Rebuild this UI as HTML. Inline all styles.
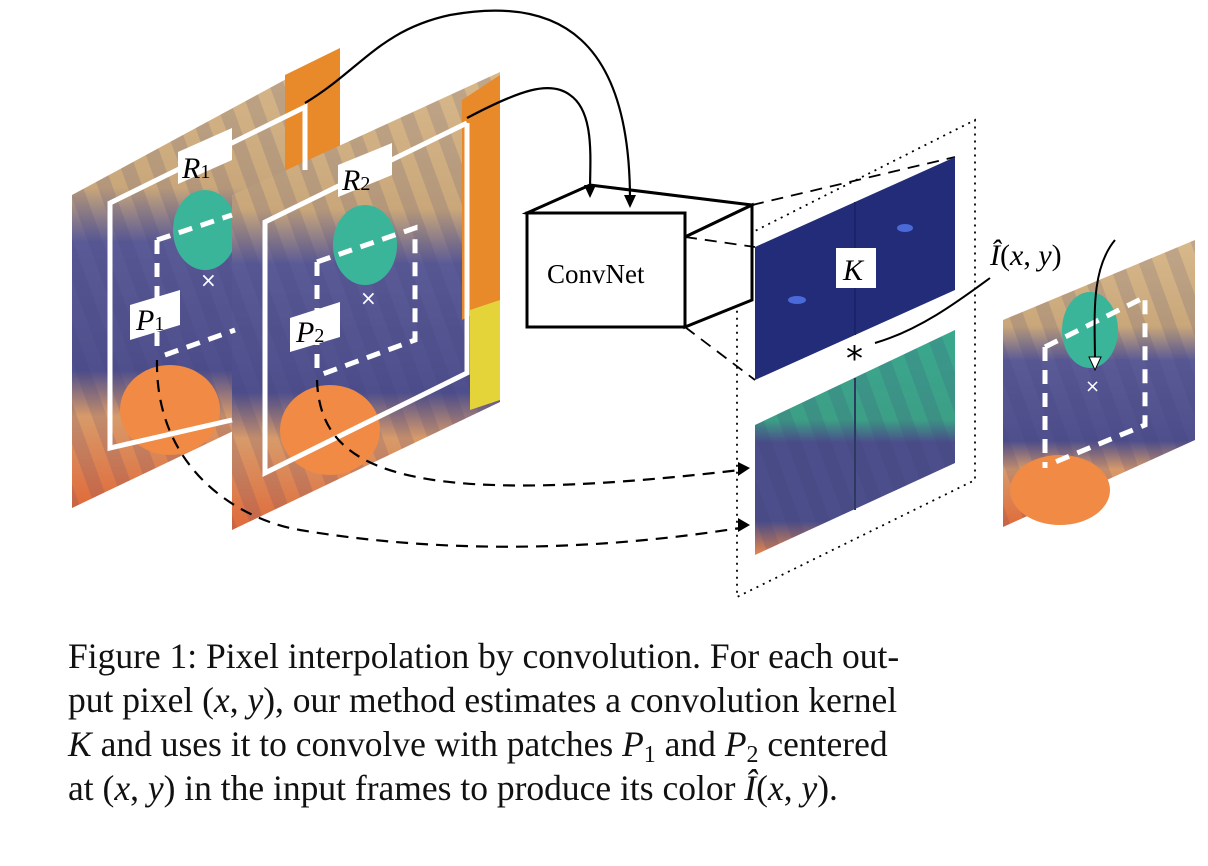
<!DOCTYPE html>
<html><head><meta charset="utf-8"><style>
body{margin:0;background:#fff;width:1208px;height:866px;overflow:hidden;position:relative}
svg{position:absolute;left:0;top:0}
.cap{position:absolute;left:68px;top:634px;font-family:"Liberation Serif",serif;font-size:35.5px;line-height:44px;color:#111;white-space:nowrap}
.cap span{display:block;height:44px}
i{font-style:italic}
sub{font-size:24px;line-height:0;vertical-align:-6px}
</style></head><body>
<svg width="1208" height="866" viewBox="0 0 1208 866">
<defs>
<linearGradient id="img" x1="0" y1="0" x2="0" y2="1">
<stop offset="0" stop-color="#d8b98c"/><stop offset="0.3" stop-color="#c9a77a"/>
<stop offset="0.42" stop-color="#5a5a96"/><stop offset="0.7" stop-color="#4e4f8c"/>
<stop offset="0.8" stop-color="#d89a6a"/><stop offset="1" stop-color="#e06a3a"/></linearGradient>
<pattern id="str" width="28" height="28" patternUnits="userSpaceOnUse" patternTransform="rotate(-20)">
<rect width="14" height="28" fill="#3b3d78" opacity="0.15"/></pattern>
<linearGradient id="pat" x1="0" y1="0" x2="0" y2="1">
<stop offset="0" stop-color="#3aa88e"/><stop offset="0.4" stop-color="#3c9f86"/>
<stop offset="0.5" stop-color="#4b4e8a"/><stop offset="0.85" stop-color="#4b4e8a"/><stop offset="1" stop-color="#e8874a"/></linearGradient>
</defs>
<!-- frame 1 -->
<polygon points="72,195 340,50 340,380 72,508" fill="url(#img)"/>
<polygon points="72,195 340,50 340,380 72,508" fill="url(#str)"/>
<polygon points="285,75 340,48 340,200 285,220" fill="#e8892a"/>
<ellipse cx="205" cy="230" rx="32" ry="40" fill="#3bb59a"/>
<ellipse cx="170" cy="410" rx="50" ry="45" fill="#f08a44"/>
<!-- frame 2 -->
<polygon points="232,195 500,72 500,402 232,530" fill="url(#img)"/>
<polygon points="232,195 500,72 500,402 232,530" fill="url(#str)"/>
<polygon points="462,100 500,75 500,300 462,320" fill="#e8892a"/>
<polygon points="470,310 500,300 500,400 470,410" fill="#e4d43a"/>
<ellipse cx="365" cy="245" rx="32" ry="40" fill="#3bb59a"/>
<ellipse cx="330" cy="430" rx="50" ry="45" fill="#f08a44"/>
<g stroke="#fff" stroke-width="5" fill="none">
<polyline points="232,420 110,448 110,203 305,107 305,170"/>
<polyline points="467,123 467,373 265,473 265,222 467,123"/>
</g>
<g stroke="#fff" stroke-width="5" fill="none" stroke-dasharray="14,9">
<polyline points="157,240 232,215"/><polyline points="157,240 157,355"/><polyline points="165,355 235,330"/>
<polyline points="317,262 415,228 415,340 320,375"/><polyline points="317,262 317,370"/>
</g>
<polygon points="178,152 232,128 232,160 178,184" fill="#fff"/>
<text x="182" y="178" font-family="Liberation Serif" font-style="italic" font-size="30">R<tspan font-size="20" font-style="normal">1</tspan></text>
<polygon points="338,165 392,143 392,175 338,197" fill="#fff"/>
<text x="342" y="190" font-family="Liberation Serif" font-style="italic" font-size="30">R<tspan font-size="20" font-style="normal">2</tspan></text>
<polygon points="130,305 180,290 180,325 130,340" fill="#fff"/>
<text x="136" y="330" font-family="Liberation Serif" font-style="italic" font-size="30">P<tspan font-size="20" font-style="normal">1</tspan></text>
<polygon points="290,318 340,302 340,337 290,352" fill="#fff"/>
<text x="296" y="342" font-family="Liberation Serif" font-style="italic" font-size="30">P<tspan font-size="20" font-style="normal">2</tspan></text>
<text x="200" y="287" fill="#fff" font-size="20" font-family="DejaVu Sans">×</text>
<text x="360" y="305" fill="#fff" font-size="20" font-family="DejaVu Sans">×</text>
<!-- dashed paths from patches -->
<g stroke="#000" stroke-width="2.2" fill="none" stroke-dasharray="12,8">
<path d="M157,360 C155,470 240,520 300,530 C450,555 600,550 740,528"/>
<path d="M317,380 C320,470 400,510 740,470"/>
</g>
<polygon points="750,468 738,462 738,476" fill="#000"/>
<polygon points="750,525 738,518 738,532" fill="#000"/>
<!-- dotted parallelogram -->
<polygon points="737,240 975,120 975,480 737,597" fill="none" stroke="#000" stroke-width="1.8" stroke-dasharray="2,5"/>
<!-- ConvNet box -->
<g stroke="#000" stroke-width="3" fill="#fff">
<polygon points="527,213 590,185 752,205 685,237"/>
<polygon points="685,237 752,205 752,300 685,327"/>
<rect x="527" y="213" width="158" height="114"/>
</g>
<text x="547" y="283" font-family="Liberation Serif" font-size="27">ConvNet</text>
<!-- arrows to ConvNet -->
<g stroke="#000" stroke-width="2.2" fill="none">
<path d="M305,103 C360,70 380,30 450,15 C560,-5 630,40 630,200"/>
<path d="M467,118 C520,90 550,80 570,95 C595,112 590,160 590,190"/>
</g>
<polygon points="630,208 624,195 636,195" fill="#000"/>
<polygon points="590,198 584,185 596,185" fill="#000"/>
<g stroke="#000" stroke-width="1.8" stroke-dasharray="12,8" fill="none">
<line x1="685" y1="237" x2="755" y2="247"/><line x1="752" y1="205" x2="955" y2="157"/>
<line x1="685" y1="327" x2="755" y2="380"/>
</g>
<!-- kernel -->
<polygon points="755,247 955,157 955,290 755,380" fill="#232c78"/>
<line x1="855" y1="202" x2="855" y2="335" stroke="#1c2468" stroke-width="2"/>
<ellipse cx="797" cy="300" rx="9" ry="4" fill="#4a6ad8"/>
<ellipse cx="905" cy="228" rx="8" ry="4" fill="#4a6ad8"/>
<rect x="836" y="248" width="40" height="40" fill="#fff"/>
<text x="843" y="280" font-family="Liberation Serif" font-style="italic" font-size="30">K</text>
<text x="846" y="370" font-family="DejaVu Sans" font-size="34">*</text>
<path d="M875,343 C920,330 960,300 990,278" stroke="#000" stroke-width="2" fill="none"/>
<!-- patches image -->
<polygon points="755,425 955,330 955,463 755,555" fill="url(#pat)"/>
<polygon points="755,425 955,330 955,463 755,555" fill="url(#str)"/>
<line x1="855" y1="378" x2="855" y2="510" stroke="#2c3a60" stroke-width="2"/>
<!-- output frame -->
<polygon points="1003,320 1195,240 1195,440 1003,527" fill="url(#img)"/>
<polygon points="1003,320 1195,240 1195,440 1003,527" fill="url(#str)"/>
<ellipse cx="1090" cy="330" rx="28" ry="38" fill="#3bb59a"/>
<ellipse cx="1060" cy="490" rx="50" ry="35" fill="#f08a44"/>
<g stroke="#fff" stroke-width="5" fill="none" stroke-dasharray="14,9">
<polyline points="1045,347 1145,297 1145,425 1048,465"/><polyline points="1045,347 1045,468"/>
</g>
<text x="1085" y="392" fill="#fff" font-size="18" font-family="DejaVu Sans">×</text>
<path d="M1115,240 C1090,270 1095,320 1095,362" stroke="#000" stroke-width="2" fill="none"/>
<polygon points="1095,370 1089,357 1101,357" fill="#fff" stroke="#000" stroke-width="1"/>
<text x="990" y="265" font-family="Liberation Serif" font-size="30"><tspan font-style="italic">Î</tspan>(<tspan font-style="italic">x</tspan>, <tspan font-style="italic">y</tspan>)</text>
</svg>
<div class="cap"><span>Figure 1: Pixel interpolation by convolution. For each out-</span><span>put pixel (<i>x</i>, <i>y</i>), our method estimates a convolution kernel</span><span><i>K</i> and uses it to convolve with patches <i>P</i><sub>1</sub> and <i>P</i><sub>2</sub> centered</span><span>at (<i>x</i>, <i>y</i>) in the input frames to produce its color <i>Î</i>(<i>x</i>, <i>y</i>).</span></div>
</body></html>
